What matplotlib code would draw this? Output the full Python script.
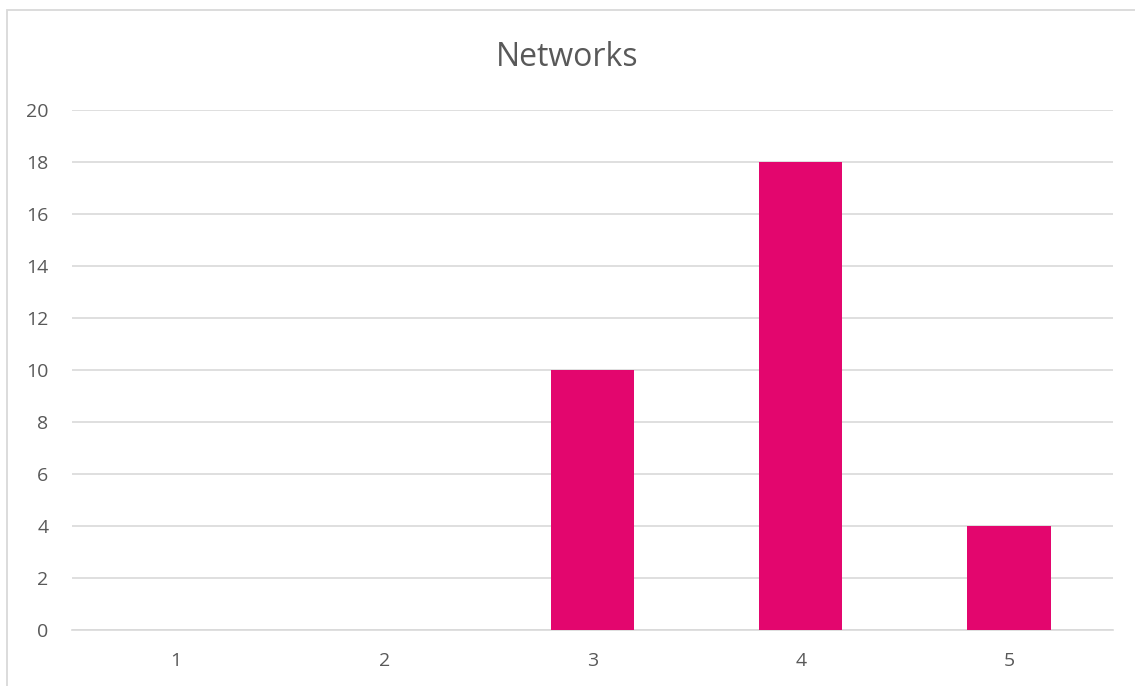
import numpy as np
import matplotlib.pyplot as plt
from matplotlib.patches import Rectangle

categories = ['1', '2', '3', '4', '5']
values = [0, 0, 10, 18, 4]
yticks = [0, 2, 4, 6, 8, 10, 12, 14, 16, 18, 20]

plt.rcParams['font.family'] = ['Open Sans', 'DejaVu Sans']

fig = plt.figure(figsize=(11.35, 6.86), dpi=100)
# outer chart border (cropped at right/bottom like the reference)
fig.patches.append(Rectangle((7 / 1135, -0.1), 1.2, 1 - 10 / 686 + 0.1,
                             transform=fig.transFigure, fill=False,
                             edgecolor='#D9D9D9', linewidth=1.3))

ax = fig.add_axes([72 / 1135, 1 - 630 / 686, (1113 - 72) / 1135, (630 - 110) / 686])
x = np.arange(len(categories))
ax.bar(x, values, width=0.4, color='#E3066E', zorder=3)

ax.set_xlim(-0.5, len(categories) - 0.5)
ax.set_ylim(0, 20)
ax.set_yticks(yticks)
ax.set_xticks(x)
ax.set_xticklabels(categories)
ax.grid(axis='y', color='#D9D9D9', linewidth=1.2, zorder=0)
ax.tick_params(length=0, labelsize=14, labelcolor='#595959')
ax.tick_params(axis='y', pad=17)
ax.tick_params(axis='x', pad=16)
for s in ['top', 'right', 'left']:
    ax.spines[s].set_visible(False)
ax.spines['bottom'].set_color('#D9D9D9')
ax.spines['bottom'].set_linewidth(1.2)

fig.text(0.5, 1 - 58 / 686, 'Networks', ha='center', va='center',
         fontsize=23, color='#595959')

plt.savefig('out.png', dpi=100)
